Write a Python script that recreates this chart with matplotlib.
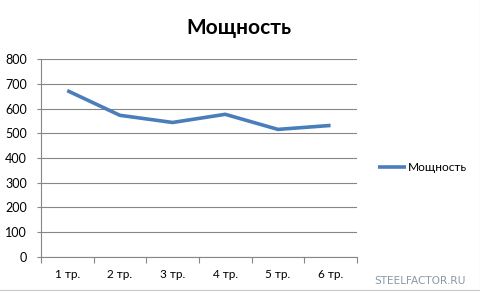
import numpy as np
import matplotlib.pyplot as plt
from matplotlib.ticker import FixedLocator, NullFormatter

categories = ['1 тр.', '2 тр.', '3 тр.', '4 тр.', '5 тр.', '6 тр.']
power = [673, 573, 544, 577, 516, 532]
yticks = [0, 100, 200, 300, 400, 500, 600, 700, 800]

plt.rcParams['font.family'] = ['Lato', 'DejaVu Sans']

fig = plt.figure(figsize=(4.81, 2.96), dpi=100)
ax = fig.add_axes([0.085, 0.132, 0.657, 0.668])

x = np.arange(1, len(categories) + 1)
ax.plot(x, power, color='#4a7ebb', lw=2.6, solid_capstyle='butt', label='Мощность')

ax.set_xlim(0.5, len(categories) + 0.5)
ax.set_ylim(0, 800)
ax.set_yticks(yticks)
ax.set_xticks(x)
ax.set_xticklabels(categories)
ax.xaxis.set_minor_locator(FixedLocator(np.arange(0.5, len(categories) + 1, 1.0)))
ax.xaxis.set_minor_formatter(NullFormatter())
ax.tick_params(axis='x', which='major', length=0, pad=9, labelsize=8.5, colors='black')
ax.tick_params(axis='x', which='minor', length=4, color='#868686', width=0.8)
ax.tick_params(axis='y', length=3, color='#868686', width=0.8, pad=7, labelsize=9)
for lab in ax.get_yticklabels():
    lab.set_horizontalalignment('right')

ax.grid(axis='y', color='#868686', lw=0.8)
ax.set_axisbelow(True)
for s in ['top', 'right']:
    ax.spines[s].set_visible(False)
ax.spines['left'].set_color('#868686')
ax.spines['bottom'].set_color('#868686')
ax.spines['left'].set_linewidth(0.8)
ax.spines['bottom'].set_linewidth(0.8)

fig.text(0.497, 0.905, 'Мощность', ha='center', va='center', fontsize=15, fontweight='bold')

fig.legend(loc='center left', bbox_to_anchor=(0.763, 0.435), frameon=False,
           fontsize=8.6, handlelength=2.4, handletextpad=0.15)

fig.text(0.967, 0.05, 'STEELFACTOR.RU', ha='right', va='center', fontsize=7.6,
         color='#8a99a3', family=['Liberation Sans Narrow', 'DejaVu Sans'])

fig.add_artist(plt.Line2D([0.997, 0.997], [0.02, 1.0], color='#c8c8c8', lw=0.8,
                          transform=fig.transFigure))
fig.add_artist(plt.Line2D([0.0, 0.997], [0.02, 0.02], color='#c8c8c8', lw=0.8,
                          transform=fig.transFigure))

fig.savefig('out.png', dpi=100)
